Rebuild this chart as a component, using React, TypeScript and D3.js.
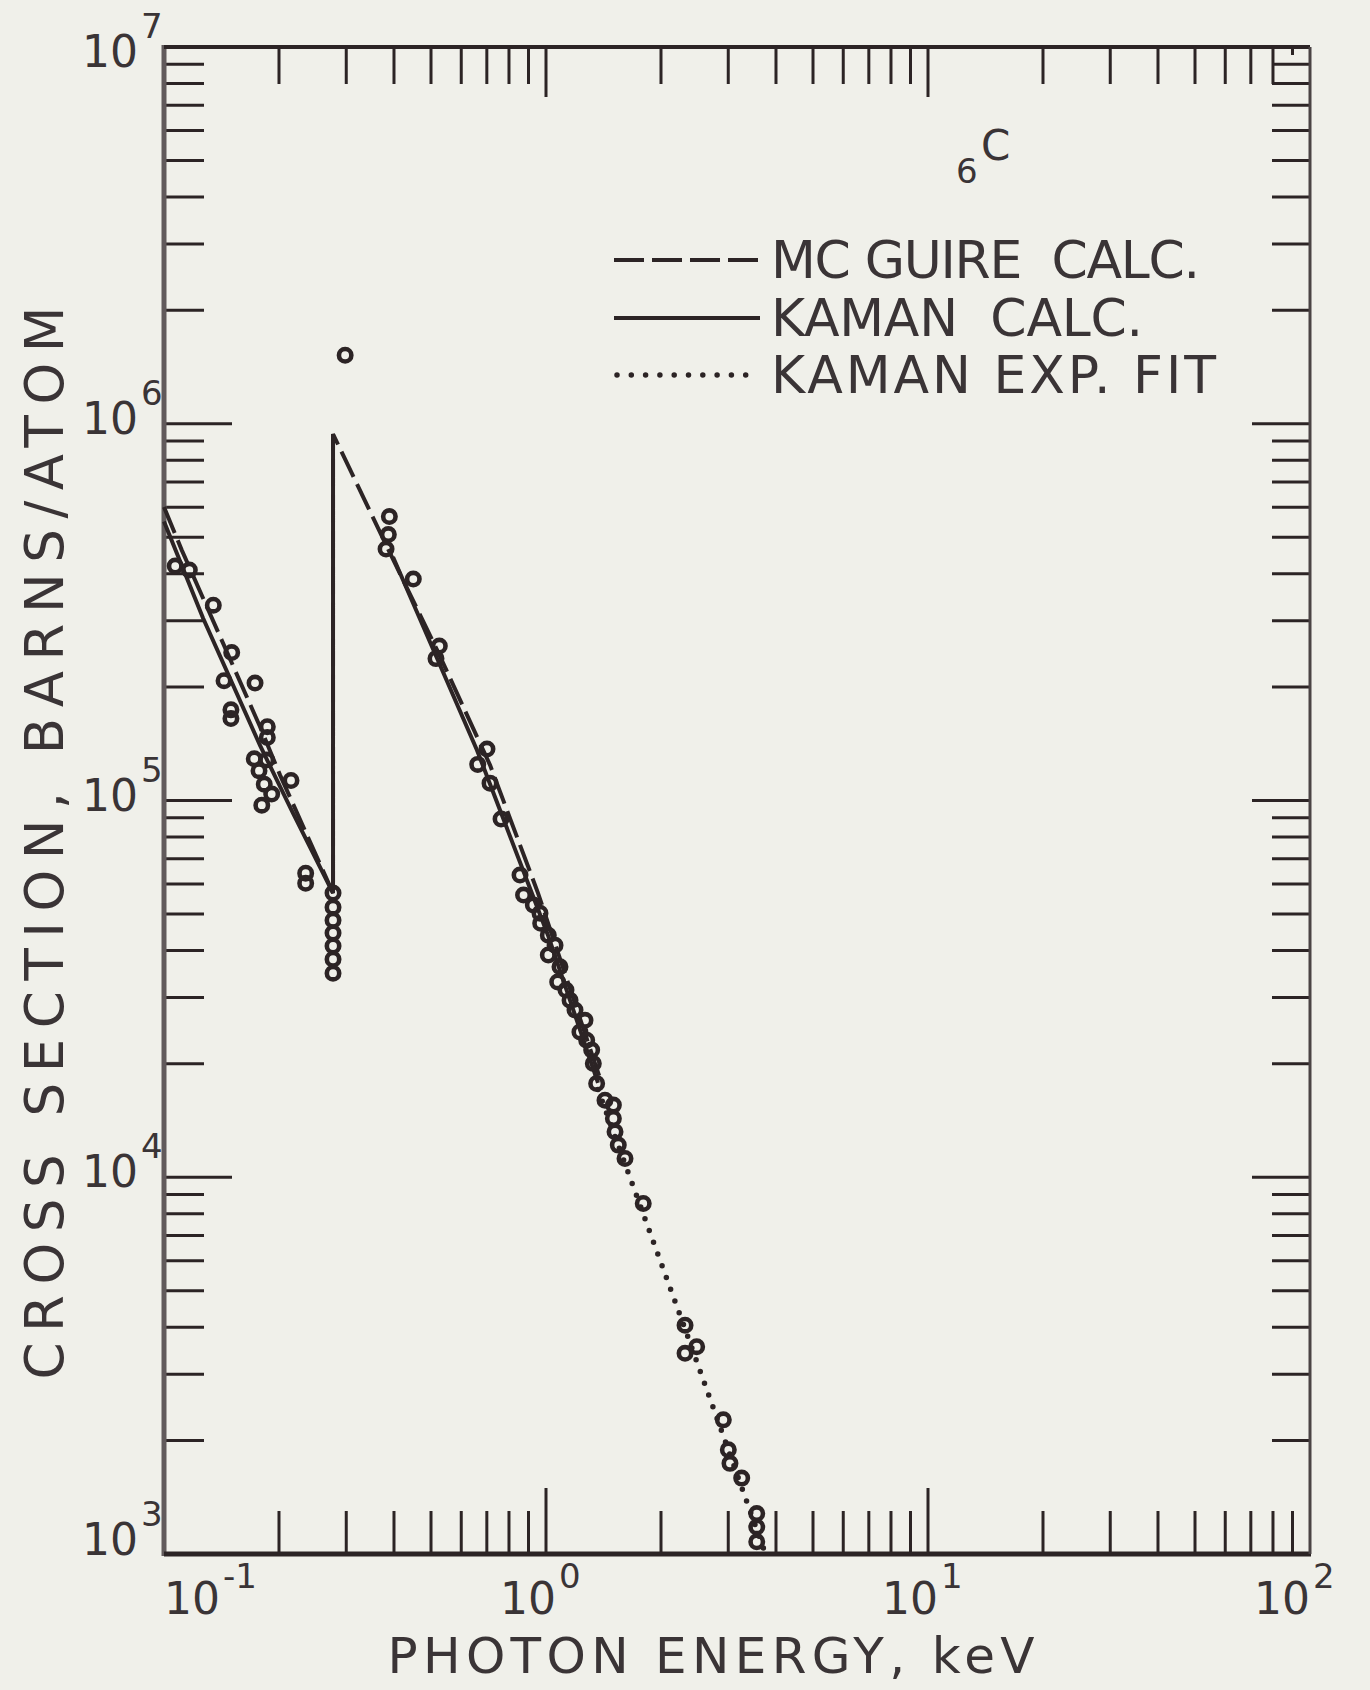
import React from "react";
import * as d3 from "d3";

const W = 1370;
const H = 1690;

// axis decades and their exponent labels
const xDecades = [0.1, 1, 10, 100];
const xExponents = ["-1", "0", "1", "2"];
const yDecades = [1e3, 1e4, 1e5, 1e6, 1e7];
const yExponents = ["3", "4", "5", "6", "7"];
const mantissas = [2, 3, 4, 5, 6, 7, 8, 9];

// measured points below the K edge (keV, barns/atom)
const belowEdgeE = [0.107, 0.1165, 0.1346, 0.1504, 0.1436, 0.1731, 0.1497, 0.1497, 0.1864, 0.1864, 0.1723, 0.1857, 0.1773, 0.215, 0.183, 0.1914, 0.1803, 0.2349, 0.2349, 0.277, 0.277, 0.277, 0.277, 0.277, 0.277, 0.277];
const belowEdgeS = [4.19e5, 4.09e5, 3.3e5, 2.47e5, 2.08e5, 2.05e5, 1.74e5, 1.65e5, 1.57e5, 1.47e5, 1.29e5, 1.28e5, 1.2e5, 1.13e5, 1.105e5, 1.04e5, 9.72e4, 6.41e4, 6.03e4, 5.68e4, 5.21e4, 4.81e4, 4.45e4, 4.11e4, 3.79e4, 3.48e4];

// measured points above the K edge
const aboveEdgeE = [0.298, 0.389, 0.3866, 0.3813, 0.4494, 0.5257, 0.5152, 0.7007, 0.6626, 0.7136, 0.7626, 0.855, 0.8734, 0.9264, 0.9645, 0.9685, 1.014, 1.056, 1.014, 1.088, 1.073, 1.128, 1.156, 1.191, 1.265, 1.227, 1.278, 1.317, 1.33, 1.357, 1.427, 1.501, 1.501, 1.516, 1.546, 1.61, 1.797, 2.312, 2.48, 2.312, 2.912, 3.001, 3.031, 3.253, 3.562, 3.562, 3.562];
const aboveEdgeS = [1.52e6, 5.67e5, 5.08e5, 4.65e5, 3.87e5, 2.57e5, 2.38e5, 1.369e5, 1.247e5, 1.112e5, 8.93e4, 6.34e4, 5.61e4, 5.28e4, 5.02e4, 4.72e4, 4.39e4, 4.13e4, 3.89e4, 3.62e4, 3.3e4, 3.14e4, 2.95e4, 2.78e4, 2.61e4, 2.43e4, 2.31e4, 2.175e4, 2.005e4, 1.774e4, 1.602e4, 1.554e4, 1.432e4, 1.32e4, 1.217e4, 1.122e4, 8.52e3, 4.05e3, 3.55e3, 3.41e3, 2.27e3, 1.89e3, 1.74e3, 1.59e3, 1.28e3, 1.18e3, 1.077e3];

// McGuire calculation (dashed)
const mcguireE = [0.1, 0.1113, 0.1784, 0.2013, 0.277, 0.277, 0.3836, 0.5185, 0.7137, 0.953, 1.385];
const mcguireS = [6.01e5, 4.62e5, 1.57e5, 1.168e5, 5.68e4, 9.39e5, 4.71e5, 2.51e5, 1.242e5, 5.68e4, 1.83e4];

// Kaman calculation (solid), below edge incl. the jump, and above edge
const kamanE = [0.1, 0.1265, 0.1784, 0.2176, 0.277, 0.277];
const kamanS = [5.5e5, 3.05e5, 1.4e5, 9.26e4, 5.68e4, 9.39e5];
const kamanHighE = [0.3977, 0.6598, 1.012, 1.368];
const kamanHighS = [4.43e5, 1.36e5, 4.39e4, 1.78e4];

// Kaman experimental fit (dotted)
const fitE = [1.368, 2.312, 3.755];
const fitS = [1.71e4, 3.96e3, 1.0e3];

const legendLabels = ["MC GUIRE  CALC.", "KAMAN  CALC.", "KAMAN EXP. FIT"];

const BG = "#f0f0ea";
const INK = "#2c2425";
const TXT = "#3a3436";
const FONT = "'DejaVu Sans', sans-serif";

export default function App() {
  const x = d3.scaleLog().domain([0.1, 100]).range([164, 1310]);
  const y = d3.scaleLog().domain([1e3, 1e7]).range([1554, 47]);
  const [x0, x1] = x.range();
  const [y0, y1] = y.range();

  const path = (es: number[], ss: number[]) =>
    d3
      .line<[number, number]>()
      .x((d) => x(d[0]))
      .y((d) => y(d[1]))(d3.zip(es, ss) as [number, number][]) || "";

  const xMinor = d3.merge(xDecades.slice(0, -1).map((d) => mantissas.map((m) => m * d)));
  const yMinor = d3.merge(yDecades.slice(0, -1).map((d) => mantissas.map((m) => m * d)));
  const xInner = xDecades.slice(1, -1);
  const yInner = yDecades.slice(1, -1);

  const points = [
    ...d3.zip(belowEdgeE, belowEdgeS),
    ...d3.zip(aboveEdgeE, aboveEdgeS),
  ];

  const legendX0 = 614;
  const legendX1 = 760;
  const legendRows = [260, 318, 375];

  return (
    <svg
      width={W}
      height={H}
      style={{ position: "absolute", left: 0, top: 0, background: BG }}
      fontFamily={FONT}
    >
      <rect width={W} height={H} fill={BG} />

      {/* ticks */}
      <g stroke={INK} strokeWidth={3}>
        {xMinor.map((v) => (
          <line key={"tm" + v} x1={x(v)} x2={x(v)} y1={y1} y2={y1 + (x(v) > 1275 ? 8 : 37)} />
        ))}
        {xInner.map((v) => (
          <line key={"tM" + v} x1={x(v)} x2={x(v)} y1={y1} y2={y1 + 50} />
        ))}
        {xMinor.map((v) => (
          <line key={"bm" + v} x1={x(v)} x2={x(v)} y1={y0} y2={y0 - 43} />
        ))}
        {xInner.map((v) => (
          <line key={"bM" + v} x1={x(v)} x2={x(v)} y1={y0} y2={y0 - 66} />
        ))}
        {yMinor.map((v) => (
          <line key={"lm" + v} x1={x0} x2={x0 + 40} y1={y(v)} y2={y(v)} />
        ))}
        {yInner.map((v) => (
          <line key={"lM" + v} x1={x0} x2={x0 + 68} y1={y(v)} y2={y(v)} />
        ))}
        {yMinor.map((v) => (
          <line key={"rm" + v} x1={x1} x2={x1 - 38} y1={y(v)} y2={y(v)} />
        ))}
        {yInner.map((v) => (
          <line key={"rM" + v} x1={x1} x2={x1 - 58} y1={y(v)} y2={y(v)} />
        ))}
      </g>

      {/* frame */}
      <line x1={x0} x2={x0} y1={y1 - 2} y2={y0 + 2} stroke="#615a5b" strokeWidth={5} />
      <line x1={x0} x2={x1} y1={y1} y2={y1} stroke={INK} strokeWidth={4} />
      <line x1={x0} x2={x1 + 1} y1={y0} y2={y0} stroke={INK} strokeWidth={5} />
      <line x1={x1} x2={x1} y1={y1} y2={y0} stroke="#4a4344" strokeWidth={3} />

      {/* curves */}
      <path d={path(mcguireE, mcguireS)} fill="none" stroke={INK} strokeWidth={4} strokeDasharray="28 8" />
      <path d={path(kamanE, kamanS)} fill="none" stroke={INK} strokeWidth={4} />
      <path d={path(kamanHighE, kamanHighS)} fill="none" stroke={INK} strokeWidth={4} />
      <path d={path(fitE, fitS)} fill="none" stroke={INK} strokeWidth={5.5} strokeLinecap="round" strokeDasharray="0 12.5" />

      {/* data points */}
      <g fill="none" stroke={INK} strokeWidth={4.6}>
        {points.map((p, i) => (
          <circle key={i} cx={x(p[0])} cy={y(p[1])} r={6.2} />
        ))}
      </g>

      {/* y tick labels */}
      <g fill={TXT}>
        {yDecades.map((v, i) => {
          const base = y(v) + (i === 0 ? 1 : i === yDecades.length - 1 ? 20 : 10);
          return (
            <g key={"yl" + v}>
              <text x={138} y={base} fontSize={44} textAnchor="end">10</text>
              <text x={141} y={base - 29} fontSize={34}>{yExponents[i]}</text>
            </g>
          );
        })}
      </g>

      {/* x tick labels */}
      <g fill={TXT}>
        {xDecades.map((v, i) => {
          const dx = i === 0 ? 46 : i === xDecades.length - 1 ? -10 : 0;
          return (
            <g key={"xl" + v}>
              <text x={x(v) + 10 + dx} y={1614} fontSize={44} textAnchor="end">10</text>
              <text x={x(v) + 13 + dx} y={1588} fontSize={34}>{xExponents[i]}</text>
            </g>
          );
        })}
      </g>

      {/* axis titles */}
      <text x={711} y={1673} fontSize={50} fill={TXT} textAnchor="middle" textLength={647} lengthAdjust="spacing">
        PHOTON ENERGY, keV
      </text>
      <text
        transform="translate(63,843) rotate(-90)"
        fontSize={53}
        fill={TXT}
        textAnchor="middle"
        textLength={1073}
        lengthAdjust="spacing"
      >
        CROSS SECTION, BARNS/ATOM
      </text>

      {/* element label */}
      <text x={956} y={183} fontSize={34} fill={TXT}>6</text>
      <text x={981} y={160} fontSize={42} fill={TXT}>C</text>

      {/* legend */}
      <line x1={legendX0} x2={legendX1} y1={legendRows[0]} y2={legendRows[0]} stroke={INK} strokeWidth={4} strokeDasharray="30 8" />
      <line x1={legendX0} x2={legendX1} y1={legendRows[1]} y2={legendRows[1]} stroke={INK} strokeWidth={4} />
      <line x1={legendX0 + 3} x2={legendX1} y1={legendRows[2]} y2={legendRows[2]} stroke={INK} strokeWidth={5.5} strokeLinecap="round" strokeDasharray="0 14.3" />
      {legendLabels.map((t, i) => (
        <text
          key={t}
          x={771}
          y={legendRows[i] + 18}
          fontSize={52}
          fill={TXT}
          style={{ whiteSpace: "pre" }}
          textLength={[429, 372, 445][i]}
          lengthAdjust="spacing"
        >
          {t}
        </text>
      ))}
    </svg>
  );
}
